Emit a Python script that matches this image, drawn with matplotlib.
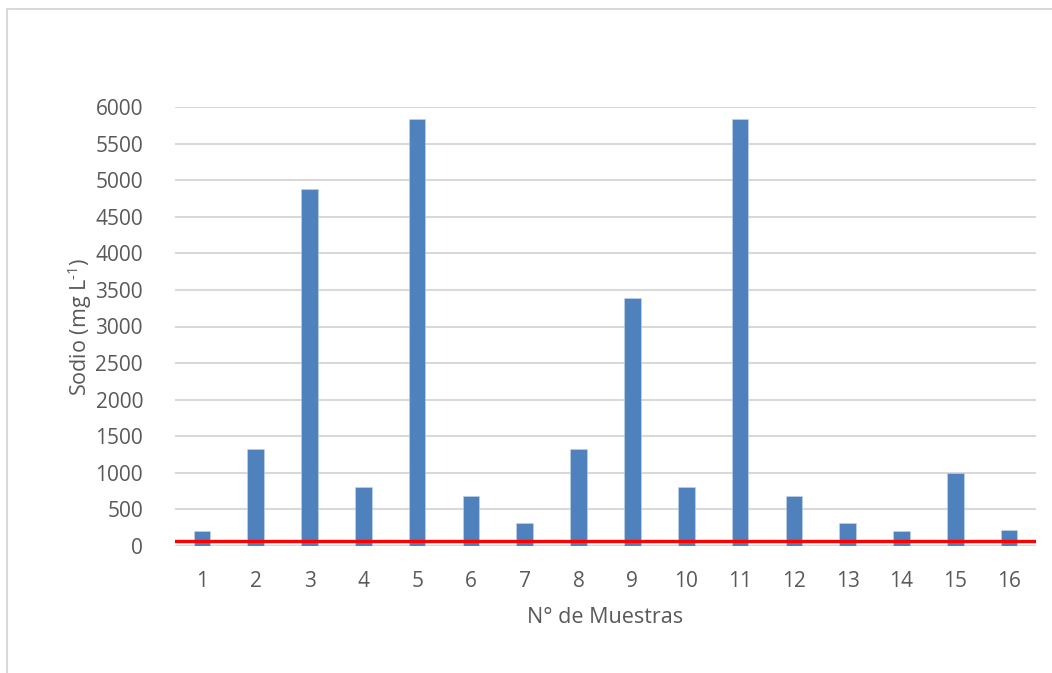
import matplotlib
matplotlib.use("Agg")
import matplotlib.pyplot as plt
from matplotlib.patches import Rectangle

# Sodium concentration per sample
muestras = [str(i) for i in range(1, 17)]
sodio = [200, 1320, 4880, 800, 5840, 680, 310, 1320, 3390, 800, 5840, 680, 310, 200, 1000, 220]
limite = 75  # reference level drawn as the red line

y_ticks = list(range(0, 6001, 500))

plt.rcParams['font.family'] = ['Open Sans', 'DejaVu Sans']
plt.rcParams['mathtext.fontset'] = 'custom'
plt.rcParams['mathtext.rm'] = 'Open Sans'

text_color = '#595959'
grid_color = '#D9D9D9'
bar_color = '#4F81BD'

fig = plt.figure(figsize=(10.52, 6.73), dpi=100)
W, H = 1052, 673
ax = fig.add_axes([175 / W, 1 - 546 / H, 861 / W, 439 / H])

x = list(range(len(muestras)))
ax.bar(x, sodio, width=0.31, color=bar_color, edgecolor='#C5D5EA', linewidth=0.4, zorder=3)
ax.axhline(limite, xmin=0, xmax=0.998, color='#FF0000', linewidth=2.4, zorder=4)

ax.set_xlim(-0.5, len(muestras) - 0.5)
ax.set_ylim(0, 6000)
ax.set_yticks(y_ticks)
ax.set_xticks(x)
ax.set_xticklabels(muestras)

ax.yaxis.grid(True, color=grid_color, linewidth=1.5, zorder=0)
ax.set_axisbelow(True)
for s in ax.spines.values():
    s.set_visible(False)
ax.tick_params(axis='both', length=0, labelsize=15, labelcolor=text_color)
ax.tick_params(axis='y', pad=23)
ax.tick_params(axis='x', pad=18)

ax.set_ylabel('Sodio (mg L$^{\\text{-1}}$)', fontsize=15.5, color=text_color, labelpad=1)
ax.set_xlabel('N° de Muestras', fontsize=15.5, color=text_color, labelpad=11)

# outer chart frame
fig.patches.append(Rectangle((7 / W, -0.1), 1.2, 1 - 9 / H + 0.1, transform=fig.transFigure,
                             fill=False, edgecolor=grid_color, linewidth=1.5))

fig.savefig('out.png', dpi=100, facecolor='white')
